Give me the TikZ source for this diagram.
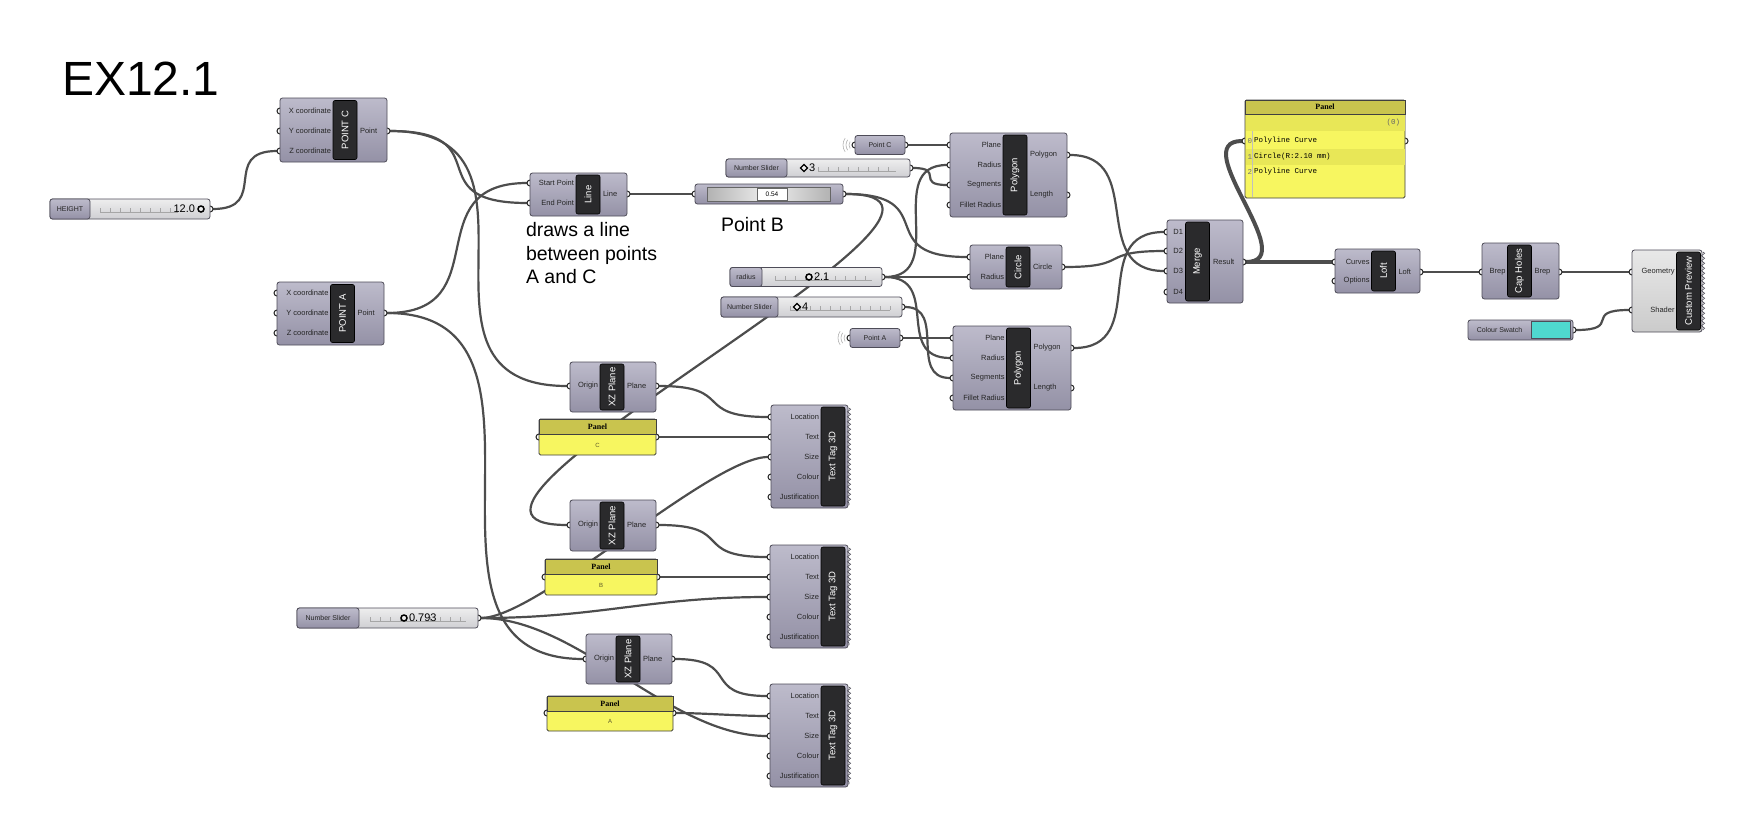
\documentclass[tikz,border=0pt]{standalone}
\usepackage{fontspec}
\setmainfont{Liberation Sans}
\setmonofont{Liberation Mono}
\newfontfamily\panelfont{Liberation Serif}
\usetikzlibrary{backgrounds,shapes.geometric,decorations.pathmorphing}

\definecolor{boxtop}{HTML}{BDBBCB}
\definecolor{boxbot}{HTML}{9491A6}
\definecolor{boxline}{HTML}{4E4C58}
\definecolor{barfill}{HTML}{2A2A2C}
\definecolor{wirec}{HTML}{4D4D4D}
\definecolor{tracktop}{HTML}{EEEEEE}
\definecolor{trackbot}{HTML}{CFCFD3}
\definecolor{panelhead}{HTML}{C9C44E}
\definecolor{panelbody}{HTML}{F7F660}
\definecolor{panelrow}{HTML}{E8E757}
\definecolor{swatch}{HTML}{4FD8CF}
\definecolor{prevtop}{HTML}{E8E8E8}
\definecolor{prevbot}{HTML}{CBCBCB}

\begin{document}
\begin{tikzpicture}[x=1pt, y=-1pt,
  every node/.style={inner sep=0pt, outer sep=0pt},
  gbox/.style={draw=boxline, line width=0.8pt, rounded corners=2.5pt,
    top color=boxtop, bottom color=boxbot},
  gbar/.style={fill=barfill, draw=black, line width=0.6pt, rounded corners=2pt,
    rotate=90, minimum height=24pt, text=white, font=\fontsize{9.5}{9.5}\selectfont},
  gin/.style={anchor=east, font=\fontsize{7.5}{8}\selectfont, text=black!85},
  gout/.style={anchor=west, font=\fontsize{7.5}{8}\selectfont, text=black!85},
  gport/.style={circle, draw=black!85, fill=white, line width=1pt, minimum size=6pt},
  gwire/.style={draw=wirec, line width=2.2pt},
  gfat/.style={draw=wirec, line width=4pt},
  gslider/.style={draw=boxline, line width=0.8pt, rounded corners=2.5pt,
    top color=tracktop, bottom color=trackbot},
  gtag/.style={gbox, font=\fontsize{7}{8}\selectfont, text=black!85},
  gval/.style={anchor=west, font=\fontsize{11}{11}\selectfont},
  gknob/.style={circle, draw=black, line width=1.5pt, minimum size=6pt, fill=tracktop},
  gdia/.style={diamond, draw=black, line width=1.2pt, minimum size=7pt, fill=tracktop},
  gtick/.style={draw=black!35, line width=0.5pt},
  gzig/.style={draw=boxline, line width=0.6pt, decorate,
    decoration={zigzag, segment length=5pt, amplitude=1.6pt}},
  gair/.style={draw=black!30, line width=0.6pt},
  phead/.style={fill=panelhead, draw=black!75, line width=0.8pt,
    font=\panelfont\bfseries\fontsize{8}{8}\selectfont},
  pbody/.style={fill=panelbody, draw=black!75, line width=0.8pt, rounded corners=1.5pt},
  ptxt/.style={font=\fontsize{6}{6}\selectfont, text=black!45!olive},
  prow/.style={anchor=west, font=\ttfamily\fontsize{7.5}{8}\selectfont},
  note/.style={anchor=west, align=left, font=\fontsize{19.5}{23.5}\selectfont}]
\useasboundingbox (0,0) rectangle (1752,838);

\node[anchor=base west, font=\fontsize{48}{48}\selectfont] (title) at (62,95) {EX12.1};

% height slider
\node[gport] (hs-out) at (210,209) {};
\node[gslider, minimum width=160pt, minimum height=20pt] (hs) at (130,209) {};
\draw[gtick] (100,212) -- (178,212);
\foreach \t in {100,110,...,170} \draw[gtick] (\t,212) -- (\t,208);
\node[gtag, minimum width=40pt, minimum height=20pt] (hs-name) at (70,209) {HEIGHT};
\node[gval, anchor=east] (hs-val) at (195,209) {12.0};
\node[gknob] (hs-knob) at (201,209) {};

% point C
\node[gport] (pc-x) at (280,111) {};
\node[gport] (pc-y) at (280,131) {};
\node[gport] (pc-z) at (280,151) {};
\node[gport] (pc-pt) at (387,131) {};
\node[gbox, minimum width=107pt, minimum height=64pt] (pc) at (333.5,130) {};
\node[gbar, minimum width=59pt] (pc-bar) at (345,130) {POINT C};
\node[gin] (pc-lx) at (331,111) {X coordinate};
\node[gin] (pc-ly) at (331,131) {Y coordinate};
\node[gin] (pc-lz) at (331,151) {Z coordinate};
\node[gout] (pc-lpt) at (360,131) {Point};

% point A
\node[gport] (pa-x) at (277,293) {};
\node[gport] (pa-y) at (277,313) {};
\node[gport] (pa-z) at (277,333) {};
\node[gport] (pa-pt) at (384,313) {};
\node[gbox, minimum width=107pt, minimum height=63pt] (pa) at (330.5,313.5) {};
\node[gbar, minimum width=58pt] (pa-bar) at (342.5,313.5) {POINT A};
\node[gin] (pa-lx) at (328.5,293) {X coordinate};
\node[gin] (pa-ly) at (328.5,313) {Y coordinate};
\node[gin] (pa-lz) at (328.5,333) {Z coordinate};
\node[gout] (pa-lpt) at (357.5,313) {Point};

% line
\node[gport] (ln-start) at (530,183) {};
\node[gport] (ln-end) at (530,203) {};
\node[gport] (ln-out) at (627,194) {};
\node[gbox, minimum width=97pt, minimum height=43pt] (ln) at (578.5,194.5) {};
\node[gbar, minimum width=39pt] (ln-bar) at (588,194.5) {Line};
\node[gin] (ln-ls) at (574,183) {Start Point};
\node[gin] (ln-le) at (574,203) {End Point};
\node[gout] (ln-lo) at (603,194) {Line};
\node[note] (ln-note) at (526,253.5) {draws a line\\between points\\A and C};

% point B
\node[gport] (pb-in) at (695,194) {};
\node[gport] (pb-out) at (843,194) {};
\node[gbox, minimum width=148pt, minimum height=20pt] (pb) at (769,194) {};
\node[draw=black!60, line width=0.6pt, minimum width=123pt, minimum height=14pt,
  left color=black!30, right color=black!30, middle color=black!6] (pb-track) at (768.5,194) {};
\node[draw=black!60, fill=white, minimum width=30pt, minimum height=12pt,
  font=\fontsize{6.5}{7}\selectfont] (pb-val) at (772,194) {0.54};
\node[note] (pb-note) at (721,225) {Point B};

% segments slider (top)
\node[gport] (ns3-out) at (910,168) {};
\node[gslider, minimum width=184pt, minimum height=18pt] (ns3) at (818,168) {};
\draw[gtick] (818,171) -- (896,171);
\foreach \t in {818,828,...,888} \draw[gtick] (\t,171) -- (\t,167);
\node[gtag, minimum width=61pt, minimum height=18pt] (ns3-name) at (756.5,168) {Number Slider};
\node[gdia] (ns3-knob) at (804,168) {};
\node[gval] (ns3-val) at (809,168) {3};

% point C parameter
\draw[gair] (855,145) ++(145:6) arc (145:215:6);
\draw[gair] (855,145) ++(145:9) arc (145:215:9);
\draw[gair] (855,145) ++(145:12) arc (145:215:12);
\node[gport] (pcp-in) at (855,145) {};
\node[gport] (pcp-out) at (905,145) {};
\node[gtag, minimum width=50pt, minimum height=19pt] (pcp) at (880,145) {Point C};

% polygon (top)
\node[gport] (pg1-plane) at (950,145) {};
\node[gport] (pg1-rad) at (950,165) {};
\node[gport] (pg1-seg) at (950,185) {};
\node[gport] (pg1-fr) at (950,205) {};
\node[gport] (pg1-poly) at (1067,155) {};
\node[gport] (pg1-len) at (1067,195) {};
\node[gbox, minimum width=117pt, minimum height=84pt] (pg1) at (1008.5,175) {};
\node[gbar, minimum width=80pt] (pg1-bar) at (1015,175) {Polygon};
\node[gin] (pg1-l1) at (1001,145) {Plane};
\node[gin] (pg1-l2) at (1001,165) {Radius};
\node[gin] (pg1-l3) at (1001,185) {Segments};
\node[gin] (pg1-l4) at (1001,205) {Fillet Radius};
\node[gout] (pg1-l5) at (1030,155) {Polygon};
\node[gout] (pg1-l6) at (1030,195) {Length};

% circle
\node[gport] (ci-plane) at (970,257) {};
\node[gport] (ci-rad) at (970,277) {};
\node[gport] (ci-out) at (1062,267) {};
\node[gbox, minimum width=92pt, minimum height=44pt] (ci) at (1016,267) {};
\node[gbar, minimum width=40pt] (ci-bar) at (1018,267) {Circle};
\node[gin] (ci-l1) at (1004,257) {Plane};
\node[gin] (ci-l2) at (1004,277) {Radius};
\node[gout] (ci-l3) at (1033,267) {Circle};

% radius slider
\node[gport] (rs-out) at (882,277) {};
\node[gslider, minimum width=152pt, minimum height=19pt] (rs) at (806,277) {};
\draw[gtick] (775,280) -- (872,280);
\foreach \t in {775,785,...,865} \draw[gtick] (\t,280) -- (\t,276);
\node[gtag, minimum width=32pt, minimum height=19pt] (rs-name) at (746,277) {radius};
\node[gknob] (rs-knob) at (809,277) {};
\node[gval] (rs-val) at (814,277) {2.1};

% segments slider (bottom)
\node[gport] (ns4-out) at (902,307) {};
\node[gslider, minimum width=181pt, minimum height=20pt] (ns4) at (811.5,307) {};
\draw[gtick] (790,310) -- (890,310);
\foreach \t in {790,800,...,890} \draw[gtick] (\t,310) -- (\t,306);
\node[gtag, minimum width=57pt, minimum height=20pt] (ns4-name) at (749.5,307) {Number Slider};
\node[gdia] (ns4-knob) at (797,307) {};
\node[gval] (ns4-val) at (802,307) {4};

% point A parameter
\draw[gair] (850,338) ++(145:6) arc (145:215:6);
\draw[gair] (850,338) ++(145:9) arc (145:215:9);
\draw[gair] (850,338) ++(145:12) arc (145:215:12);
\node[gport] (pap-in) at (850,338) {};
\node[gport] (pap-out) at (900,338) {};
\node[gtag, minimum width=50pt, minimum height=19pt] (pap) at (875,338) {Point A};

% polygon (bottom)
\node[gport] (pg2-plane) at (953,338) {};
\node[gport] (pg2-rad) at (953,358) {};
\node[gport] (pg2-seg) at (953,378) {};
\node[gport] (pg2-fr) at (953,398) {};
\node[gport] (pg2-poly) at (1071,348) {};
\node[gport] (pg2-len) at (1071,388) {};
\node[gbox, minimum width=118pt, minimum height=84pt] (pg2) at (1012,368) {};
\node[gbar, minimum width=80pt] (pg2-bar) at (1018.5,368) {Polygon};
\node[gin] (pg2-l1) at (1004.5,338) {Plane};
\node[gin] (pg2-l2) at (1004.5,358) {Radius};
\node[gin] (pg2-l3) at (1004.5,378) {Segments};
\node[gin] (pg2-l4) at (1004.5,398) {Fillet Radius};
\node[gout] (pg2-l5) at (1033.5,348) {Polygon};
\node[gout] (pg2-l6) at (1033.5,388) {Length};

% merge
\node[gport] (mg-d1) at (1167,232) {};
\node[gport] (mg-d2) at (1167,251) {};
\node[gport] (mg-d3) at (1167,271) {};
\node[gport] (mg-d4) at (1167,292) {};
\node[gport] (mg-out) at (1243,262) {};
\node[gbox, minimum width=76pt, minimum height=83pt] (mg) at (1205,261.5) {};
\node[gbar, minimum width=79pt] (mg-bar) at (1197.5,261.5) {Merge};
\node[gin] (mg-l1) at (1183,232) {D1};
\node[gin] (mg-l2) at (1183,251) {D2};
\node[gin] (mg-l3) at (1183,271) {D3};
\node[gin] (mg-l4) at (1183,292) {D4};
\node[gout] (mg-l5) at (1213,262) {Result};

% result panel
\node[gport] (pn0-in) at (1245,141) {};
\node[gport] (pn0-out) at (1405,141) {};
\node[pbody, minimum width=160pt, minimum height=98pt] (pn0) at (1325,149) {};
\fill[panelrow] (1245.5,114) rectangle (1404.5,131);
\fill[panelrow] (1245.5,149) rectangle (1404.5,165);
\draw[black!25, line width=0.5pt] (1252.5,131) -- (1252.5,197);
\node[phead, minimum width=160pt, minimum height=14pt] (pn0-head) at (1325,107) {Panel};
\node[prow, anchor=east, text=black!60] (pn0-n) at (1400,123) {(0)};
\node[prow, text=black!55] (pn0-i0) at (1247.5,141) {0};
\node[prow] (pn0-r0) at (1254,141) {Polyline Curve};
\node[prow, text=black!55] (pn0-i1) at (1247.5,157) {1};
\node[prow] (pn0-r1) at (1254,157) {Circle(R:2.10 mm)};
\node[prow, text=black!55] (pn0-i2) at (1247.5,172) {2};
\node[prow] (pn0-r2) at (1254,172) {Polyline Curve};

% loft
\node[gport] (lf-crv) at (1335,262) {};
\node[gport] (lf-opt) at (1335,281) {};
\node[gport] (lf-out) at (1420,272) {};
\node[gbox, minimum width=85pt, minimum height=44pt] (lf) at (1377.5,271) {};
\node[gbar, minimum width=40pt] (lf-bar) at (1383.5,271) {Loft};
\node[gin] (lf-l1) at (1369.5,262) {Curves};
\node[gin] (lf-l2) at (1369.5,281) {Options};
\node[gout] (lf-l3) at (1398.5,272) {Loft};

% cap holes
\node[gport] (ch-in) at (1482,272) {};
\node[gport] (ch-out) at (1559,272) {};
\node[gbox, minimum width=77pt, minimum height=56pt] (ch) at (1520.5,271) {};
\node[gbar, minimum width=52pt] (ch-bar) at (1519.5,271) {Cap Holes};
\node[gin] (ch-l1) at (1505.5,272) {Brep};
\node[gout] (ch-l2) at (1534.5,272) {Brep};

% custom preview
\node[gport] (cp-geo) at (1632,272) {};
\node[gport] (cp-shd) at (1632,310) {};
\node[gbox, top color=prevtop, bottom color=prevbot, minimum width=70pt,
  minimum height=82pt] (cp) at (1667,291) {};
\draw[gzig] (1703,252) -- (1703,330);
\node[gbar, minimum width=78pt] (cp-bar) at (1688.5,291) {Custom Preview};
\node[gin] (cp-l1) at (1674.5,272) {Geometry};
\node[gin] (cp-l2) at (1674.5,310) {Shader};

% colour swatch
\node[gport] (cs-out) at (1573,330) {};
\node[gbox, minimum width=105pt, minimum height=20pt] (cs) at (1520.5,330) {};
\node[draw=boxline, line width=0.6pt, fill=swatch, minimum width=39pt,
  minimum height=17pt] (cs-col) at (1550.5,330) {};
\node[font=\fontsize{7}{8}\selectfont, text=black!85] (cs-name) at (1499.5,330) {Colour Swatch};

% xz plane C
\node[gport] (xz1-in) at (570,386) {};
\node[gport] (xz1-out) at (656,386) {};
\node[gbox, minimum width=86pt, minimum height=50pt] (xz1) at (613,387) {};
\node[gbar, minimum width=46pt] (xz1-bar) at (612,387) {XZ Plane};
\node[gin] (xz1-l1) at (598,386) {Origin};
\node[gout] (xz1-l2) at (627,386) {Plane};

% panel C
\node[gport] (pnc-in) at (539,437) {};
\node[gport] (pnc-out) at (656,437) {};
\node[pbody, minimum width=117pt, minimum height=36pt] (pnc) at (597.5,437) {};
\node[phead, minimum width=117pt, minimum height=15pt] (pnc-head) at (597.5,426.5) {Panel};
\node[ptxt] (pnc-txt) at (597.5,445.5) {C};

% text tag C
\node[gport] (tt1-loc) at (771,417) {};
\node[gport] (tt1-txt) at (771,437) {};
\node[gport] (tt1-size) at (771,457) {};
\node[gport] (tt1-col) at (771,477) {};
\node[gport] (tt1-just) at (771,497) {};
\node[gbox, minimum width=77pt, minimum height=103pt] (tt1) at (809.5,456.5) {};
\draw[gzig] (849,408) -- (849,505);
\node[gbar, minimum width=99pt] (tt1-bar) at (833,456.5) {Text Tag 3D};
\node[gin] (tt1-l1) at (819,417) {Location};
\node[gin] (tt1-l2) at (819,437) {Text};
\node[gin] (tt1-l3) at (819,457) {Size};
\node[gin] (tt1-l4) at (819,477) {Colour};
\node[gin] (tt1-l5) at (819,497) {Justification};

% xz plane B
\node[gport] (xz2-in) at (570,525) {};
\node[gport] (xz2-out) at (656,525) {};
\node[gbox, minimum width=86pt, minimum height=51pt] (xz2) at (613,525.5) {};
\node[gbar, minimum width=47pt] (xz2-bar) at (612,525.5) {XZ Plane};
\node[gin] (xz2-l1) at (598,525) {Origin};
\node[gout] (xz2-l2) at (627,525) {Plane};

% panel B
\node[gport] (pnb-in) at (545,577) {};
\node[gport] (pnb-out) at (657,577) {};
\node[pbody, minimum width=112pt, minimum height=36pt] (pnb) at (601,577) {};
\node[phead, minimum width=112pt, minimum height=15pt] (pnb-head) at (601,566.5) {Panel};
\node[ptxt] (pnb-txt) at (601,585.5) {B};

% text tag B
\node[gport] (tt2-loc) at (770,557) {};
\node[gport] (tt2-txt) at (770,577) {};
\node[gport] (tt2-size) at (770,597) {};
\node[gport] (tt2-col) at (770,617) {};
\node[gport] (tt2-just) at (770,637) {};
\node[gbox, minimum width=78pt, minimum height=103pt] (tt2) at (809,596.5) {};
\draw[gzig] (849,548) -- (849,645);
\node[gbar, minimum width=99pt] (tt2-bar) at (833,596.5) {Text Tag 3D};
\node[gin] (tt2-l1) at (819,557) {Location};
\node[gin] (tt2-l2) at (819,577) {Text};
\node[gin] (tt2-l3) at (819,597) {Size};
\node[gin] (tt2-l4) at (819,617) {Colour};
\node[gin] (tt2-l5) at (819,637) {Justification};

% size slider
\node[gport] (ns7-out) at (478,618) {};
\node[gslider, minimum width=181pt, minimum height=20pt] (ns7) at (387.5,618) {};
\draw[gtick] (370,621) -- (466,621);
\foreach \t in {370,380,...,460} \draw[gtick] (\t,621) -- (\t,617);
\node[gtag, minimum width=62pt, minimum height=20pt] (ns7-name) at (328,618) {Number Slider};
\node[gknob] (ns7-knob) at (404,618) {};
\node[gval] (ns7-val) at (409,618) {0.793};

% xz plane A
\node[gport] (xz3-in) at (586,659) {};
\node[gport] (xz3-out) at (672,659) {};
\node[gbox, minimum width=86pt, minimum height=50pt] (xz3) at (629,659) {};
\node[gbar, minimum width=46pt] (xz3-bar) at (628,659) {XZ Plane};
\node[gin] (xz3-l1) at (614,659) {Origin};
\node[gout] (xz3-l2) at (643,659) {Plane};

% panel A
\node[gport] (pna-in) at (547,713) {};
\node[gport] (pna-out) at (673,713) {};
\node[pbody, minimum width=126pt, minimum height=35pt] (pna) at (610,713.5) {};
\node[phead, minimum width=126pt, minimum height=15pt] (pna-head) at (610,703.5) {Panel};
\node[ptxt] (pna-txt) at (610,721.5) {A};

% text tag A
\node[gport] (tt3-loc) at (770,696) {};
\node[gport] (tt3-txt) at (770,716) {};
\node[gport] (tt3-size) at (770,736) {};
\node[gport] (tt3-col) at (770,756) {};
\node[gport] (tt3-just) at (770,776) {};
\node[gbox, minimum width=78pt, minimum height=103pt] (tt3) at (809,735.5) {};
\draw[gzig] (849,687) -- (849,784);
\node[gbar, minimum width=99pt] (tt3-bar) at (833,735.5) {Text Tag 3D};
\node[gin] (tt3-l1) at (819,696) {Location};
\node[gin] (tt3-l2) at (819,716) {Text};
\node[gin] (tt3-l3) at (819,736) {Size};
\node[gin] (tt3-l4) at (819,756) {Colour};
\node[gin] (tt3-l5) at (819,776) {Justification};

% wires
\begin{pgfonlayer}{background}
\fill[white] (0,0) rectangle (1752,838);
\draw[gwire] (hs-out) .. controls +(60,0) and +(-60,0) .. (pc-z);
\draw[gwire] (pc-pt) .. controls +(115,0) and +(-115,0) .. (ln-end);
\draw[gwire] (pc-pt) .. controls +(183,0) and +(-183,0) .. (xz1-in);
\draw[gwire] (pa-pt) .. controls +(115,0) and +(-115,0) .. (ln-start);
\draw[gwire] (pa-pt) .. controls +(202,0) and +(-202,0) .. (xz3-in);
\draw[gwire] (ln-out) -- (pb-in);
\draw[gwire] (pb-out) .. controls +(100,0) and +(-100,0) .. (ci-plane);
\draw[gwire] (pb-out) .. controls +(200,0) and +(-200,0) .. (xz2-in);
\draw[gwire] (pcp-out) -- (pg1-plane);
\draw[gwire] (ns3-out) .. controls +(35,0) and +(-35,0) .. (pg1-seg);
\draw[gwire] (rs-out) .. controls +(68,0) and +(-68,0) .. (pg1-rad);
\draw[gwire] (rs-out) -- (ci-rad);
\draw[gwire] (rs-out) .. controls +(60,0) and +(-60,0) .. (pg2-rad);
\draw[gwire] (ns4-out) .. controls +(45,0) and +(-45,0) .. (pg2-seg);
\draw[gwire] (pap-out) -- (pg2-plane);
\draw[gwire] (pg1-poly) .. controls +(80,0) and +(-80,0) .. (mg-d3);
\draw[gwire] (ci-out) .. controls +(70,0) and +(-70,0) .. (mg-d2);
\draw[gwire] (pg2-poly) .. controls +(80,0) and +(-80,0) .. (mg-d1);
\draw[gfat] (mg-out) .. controls +(60,0) and +(-60,0) .. (pn0-in);
\draw[gfat] (mg-out) -- (lf-crv);
\draw[gwire] (lf-out) -- (ch-in);
\draw[gwire] (ch-out) -- (cp-geo);
\draw[gwire] (cs-out) .. controls +(50,0) and +(-50,0) .. (cp-shd);
\draw[gwire] (xz1-out) .. controls +(80,0) and +(-80,0) .. (tt1-loc);
\draw[gwire] (pnc-out) -- (tt1-txt);
\draw[gwire] (ns7-out) .. controls +(60,0) and +(-60,0) .. (tt1-size);
\draw[gwire] (xz2-out) .. controls +(80,0) and +(-80,0) .. (tt2-loc);
\draw[gwire] (pnb-out) -- (tt2-txt);
\draw[gwire] (ns7-out) .. controls +(120,0) and +(-120,0) .. (tt2-size);
\draw[gwire] (xz3-out) .. controls +(70,0) and +(-70,0) .. (tt3-loc);
\draw[gwire] (pna-out) .. controls +(30,0) and +(-30,0) .. (tt3-txt);
\draw[gwire] (ns7-out) .. controls +(100,0) and +(-100,0) .. (tt3-size);
\end{pgfonlayer}
\end{tikzpicture}
\end{document}
